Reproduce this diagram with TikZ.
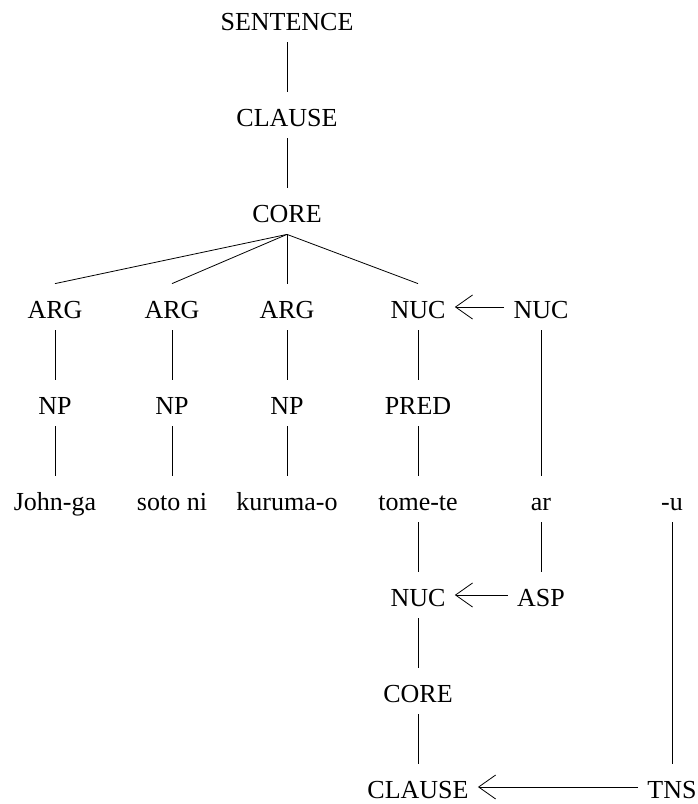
\documentclass[tikz,border=0pt]{standalone}
\usepackage{fontspec}
\setmainfont{Liberation Serif}
\usetikzlibrary{arrows.meta}

\tikzset{
    lbl/.style={inner xsep=9pt, inner ysep=8pt, text height=26pt, text depth=4pt, font=\fontsize{26}{31}\selectfont},
    op/.style={-{Straight Barb[length=17pt, width=24pt]}},
}

\begin{document}
\begin{tikzpicture}[x=1pt, y=-1pt, line width=0.8pt]
            \useasboundingbox (0,0) rectangle (698,804);

            % main tree
            \node[lbl] (sent) at (287,19) {SENTENCE};
            \node[lbl] (cl) at (287,115) {CLAUSE};
            \node[lbl] (core) at (287,211) {CORE};

            \node[lbl] (arga) at (55,307) {ARG};
            \node[lbl] (argb) at (172,307) {ARG};
            \node[lbl] (argc) at (287,307) {ARG};
            \node[lbl] (nuc) at (418,307) {NUC};
            \node[lbl] (nucop) at (541,307) {NUC};

            \node[lbl] (npa) at (55,403) {NP};
            \node[lbl] (npb) at (172,403) {NP};
            \node[lbl] (npc) at (287,403) {NP};
            \node[lbl] (pred) at (418,403) {PRED};

            \node[lbl] (john) at (55,499) {John-ga};
            \node[lbl] (soto) at (172,499) {soto ni};
            \node[lbl] (kuruma) at (287,499) {kuruma-o};
            \node[lbl] (tome) at (418,499) {tome-te};
            \node[lbl] (ar) at (541,499) {ar};
            \node[lbl] (u) at (672,499) {-u};

            % operator projection
            \node[lbl] (nucb) at (418,595) {NUC};
            \node[lbl] (asp) at (541,595) {ASP};
            \node[lbl] (coreb) at (418,691) {CORE};
            \node[lbl] (clb) at (418,787) {CLAUSE};
            \node[lbl] (tns) at (672,787) {TNS};

            \draw (sent) -- (cl) -- (core);
            \draw (core.south) -- (arga.north);
            \draw (core.south) -- (argb.north);
            \draw (core.south) -- (argc.north);
            \draw (core.south) -- (nuc.north);
            \draw (arga) -- (npa) -- (john);
            \draw (argb) -- (npb) -- (soto);
            \draw (argc) -- (npc) -- (kuruma);
            \draw (nuc) -- (pred) -- (tome);
            \draw (nucop) -- (ar) -- (asp);
            \draw (tome) -- (nucb) -- (coreb) -- (clb);
            \draw (u) -- (tns);

            \draw[op] (nucop) -- (nuc);
            \draw[op] (asp) -- (nucb);
            \draw[op] (tns) -- (clb);
        \end{tikzpicture}
\end{document}
